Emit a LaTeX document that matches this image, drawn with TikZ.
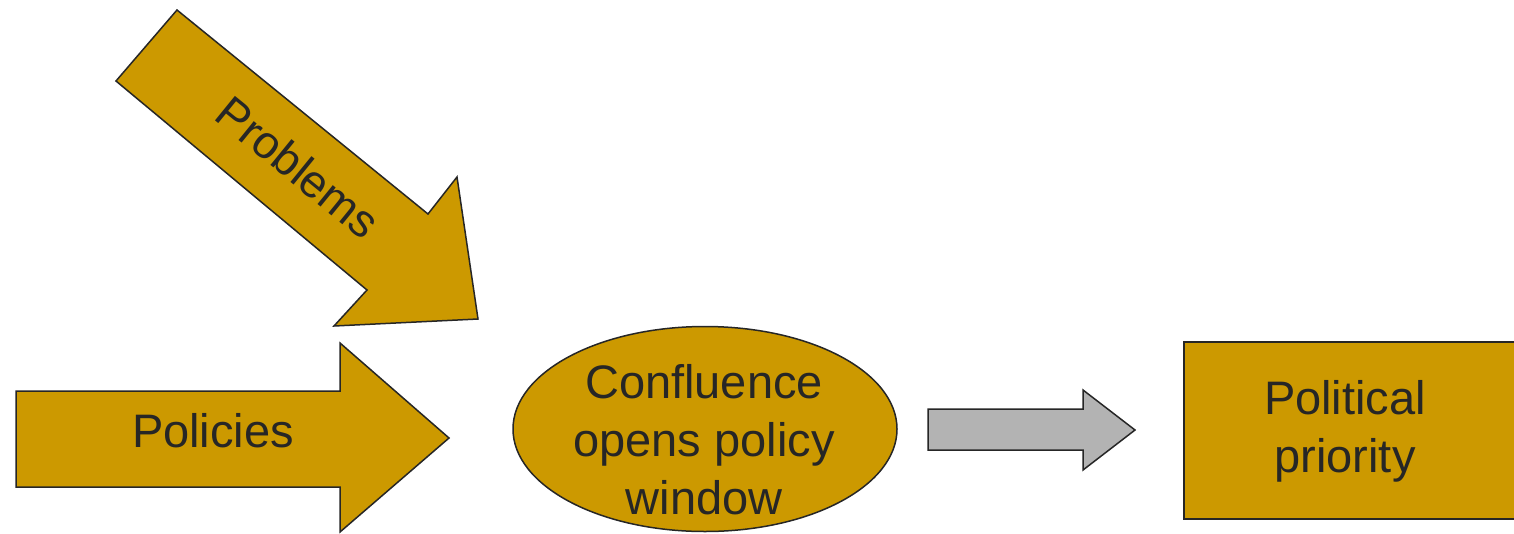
\documentclass[tikz,border=0pt]{standalone}
\usepackage{fontspec}
\setmainfont{Liberation Sans}
\usetikzlibrary{shapes.geometric}

\definecolor{gold}{HTML}{CC9900}
\definecolor{arrowgray}{HTML}{B3B3B3}
\definecolor{ink}{HTML}{262626}

% fixed-height strut so multi-line labels have predictable line boxes
\newcommand{\linestrut}{\rule[-12pt]{0pt}{46pt}}

\begin{document}
\begin{tikzpicture}[x=1pt, y=-1pt,
  goldshape/.style={fill=gold, draw=ink, line width=1.5pt, line join=miter},
  grayshape/.style={fill=arrowgray, draw=ink, line width=1.5pt, line join=miter},
  labeltext/.style={text=ink, font=\fontsize{47}{58}\selectfont, inner sep=0pt, align=center},
]
\useasboundingbox[fill=white] (0,0) rectangle (1514,533);

% Problems: diagonal block arrow
\draw[goldshape] (177,10) -- (428,214) -- (457,177) -- (478,319)
  -- (334,326) -- (367,290) -- (116,81) -- cycle;
\node[labeltext, font=\fontsize{46}{56}\selectfont, rotate=-39.1, anchor=base]
  (problems) at (288,180) {Problems};

% Policies: horizontal block arrow
\draw[goldshape] (16,391) -- (340,391) -- (340,343) -- (449,438)
  -- (340,532) -- (340,487) -- (16,487) -- cycle;
\node[labeltext, anchor=base] (policies) at (213,447) {Policies};

% Confluence ellipse
\node[ellipse, goldshape, minimum width=384pt, minimum height=205pt, inner sep=0pt]
  (confluence) at (705,429) {};
\node[labeltext] (confluencetext) at (704,445)
  {\linestrut Confluence\\\linestrut opens policy\\\linestrut window};

% grey block arrow
\draw[grayshape] (928,409) -- (1083,409) -- (1083,390) -- (1135,430)
  -- (1083,470) -- (1083,450) -- (928,450) -- cycle;

% Political priority box
\draw[goldshape] (1184,342) rectangle (1530,519);
\node[labeltext] (priority) at (1345,432)
  {\linestrut Political\\\linestrut priority};
\end{tikzpicture}
\end{document}
